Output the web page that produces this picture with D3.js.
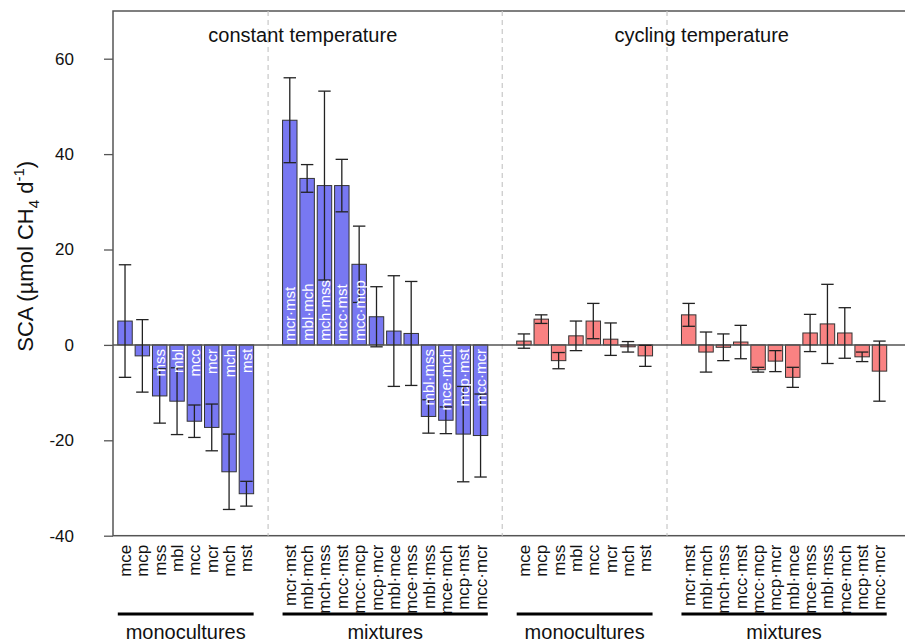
<!DOCTYPE html>
<html>
<head>
<meta charset="utf-8">
<script src="https://cdnjs.cloudflare.com/ajax/libs/d3/7.8.5/d3.min.js"></script>
<style>
  html, body { margin: 0; padding: 0; background: #fff; }
  svg { display: block; font-family: "Liberation Sans", Arial, Helvetica, sans-serif; }
</style>
</head>
<body>
<svg id="chart" width="905" height="644"></svg>
<script>
// Species codes for monocultures and two-species mixtures
const monoConst = ["mce", "mcp", "mss", "mbl", "mcc", "mcr", "mch", "mst"];
const mixConst = ["mcr·mst", "mbl·mch", "mch·mss", "mcc·mst", "mcc·mcp", "mcp·mcr",
                  "mbl·mce", "mce·mss", "mbl·mss", "mce·mch", "mcp·mst", "mcc·mcr"];
const monoCyc = ["mce", "mcp", "mss", "mbl", "mcc", "mcr", "mch", "mst"];
const mixCyc = ["mcr·mst", "mbl·mch", "mch·mss", "mcc·mst", "mcc·mcp", "mcp·mcr",
                "mbl·mce", "mce·mss", "mbl·mss", "mce·mch", "mcp·mst", "mcc·mcr"];

// SCA means and standard errors (µmol CH4 d-1)
const monoConstMean = [5.0, -2.3, -10.7, -11.8, -16.0, -17.3, -26.6, -31.2];
const monoConstSE   = [11.8, 7.6, 5.7, 7.0, 3.4, 4.9, 7.9, 2.6];
const mixConstMean  = [47.1, 34.9, 33.4, 33.4, 16.9, 5.9, 2.9, 2.4, -15.0, -15.8, -18.7, -19.0];
const mixConstSE    = [8.9, 2.9, 19.8, 5.5, 8.0, 6.3, 11.6, 10.9, 3.5, 2.8, 10.0, 8.7];
const monoCycMean   = [0.8, 5.4, -3.3, 1.9, 5.0, 1.2, -0.4, -2.3];
const monoCycSE     = [1.5, 0.9, 1.7, 3.1, 3.7, 3.4, 1.1, 2.2];
const mixCycMean    = [6.3, -1.5, -0.5, 0.6, -5.2, -3.4, -6.8, 2.5, 4.4, 2.5, -2.5, -5.5];
const mixCycSE      = [2.4, 4.2, 2.8, 3.5, 0.5, 2.2, 2.1, 3.9, 8.3, 5.3, 1.0, 6.3];

const yTicks = [-40, -20, 0, 20, 40, 60];
const groupNames = ["monocultures", "mixtures", "monocultures", "mixtures"];
const panelTitles = ["constant temperature", "cycling temperature"];
const labelThreshold = 10; // bars at least this long carry their name inside

const groups = [
  { names: monoConst, mean: monoConstMean, se: monoConstSE, panel: 0 },
  { names: mixConst,  mean: mixConstMean,  se: mixConstSE,  panel: 0 },
  { names: monoCyc,   mean: monoCycMean,   se: monoCycSE,   panel: 1 },
  { names: mixCyc,    mean: mixCycMean,    se: mixCycSE,    panel: 1 }
];

// Bar layout in barplot units: width 1, spacing 0.2, a 2-unit gap between groups
const bars = [];
let c = 0.7;
groups.forEach((g, gi) => {
  g.first = c;
  g.names.forEach((n, i) => {
    bars.push({ name: n, value: g.mean[i], se: g.se[i], group: gi, panel: g.panel, u: c });
    c += 1.2;
  });
  g.last = c - 1.2;
  c += 1.8;
});

const svg = d3.select("#chart");
const colors = ["#7878f2", "#f98282"];

const x = d3.scaleLinear().domain([0, 53.4]).range([114.9, 886.7]);
const y = d3.scaleLinear().domain([-40, 70]).range([535.7, 11]);
const plotLeft = 113, plotRight = 960;

// plot frame
svg.append("rect")
  .attr("x", plotLeft).attr("y", y(70))
  .attr("width", plotRight - plotLeft).attr("height", y(-40) - y(70))
  .attr("fill", "none").attr("stroke", "#555").attr("stroke-width", 1.5);

// dashed separators between groups
for (let gi = 0; gi < groups.length - 1; gi++) {
  const ux = (groups[gi].last + groups[gi + 1].first) / 2;
  svg.append("line")
    .attr("x1", x(ux)).attr("x2", x(ux))
    .attr("y1", y(70)).attr("y2", y(-40))
    .attr("stroke", "#c8c8c8").attr("stroke-width", 1.2)
    .attr("stroke-dasharray", "5,4");
}

// y axis
const yAxis = d3.axisLeft(y).tickValues(yTicks).tickSize(9).tickPadding(30)
  .tickFormat(d => String(d));
const ya = svg.append("g").attr("transform", `translate(${plotLeft},0)`).call(yAxis);
ya.select(".domain").remove();
ya.selectAll(".tick line").attr("stroke", "#555").attr("stroke-width", 1.3);
ya.selectAll(".tick text").attr("font-size", 17).attr("fill", "#111")
  .attr("font-family", "Liberation Sans, Arial, sans-serif");

// y axis title
const yt = svg.append("text")
  .attr("transform", `translate(33,${(y(-40) + y(70)) / 2 - 17}) rotate(-90)`)
  .attr("text-anchor", "middle")
  .attr("font-size", 22).attr("fill", "#111");
yt.append("tspan").text("SCA (µmol CH");
yt.append("tspan").text("4").attr("font-size", 15).attr("dy", 6);
yt.append("tspan").text(" d").attr("dy", -6);
yt.append("tspan").text("-1").attr("font-size", 15).attr("dy", -9);
yt.append("tspan").text(")").attr("dy", 9);

const bw = x(1) - x(0);

// bars
svg.append("g").selectAll("rect").data(bars).join("rect")
  .attr("x", d => x(d.u - 0.5))
  .attr("width", bw)
  .attr("y", d => y(Math.max(0, d.value)))
  .attr("height", d => Math.abs(y(d.value) - y(0)))
  .attr("fill", d => colors[d.panel])
  .attr("stroke", "#333").attr("stroke-width", 1);

// zero line
svg.append("line")
  .attr("x1", plotLeft).attr("x2", plotRight)
  .attr("y1", y(0)).attr("y2", y(0))
  .attr("stroke", "#555").attr("stroke-width", 1.5);

// error bars (mean ± SE)
const eb = svg.append("g").attr("stroke", "#222").attr("stroke-width", 1.3);
const capHalf = bw * 0.43;
bars.forEach(d => {
  const cx = x(d.u);
  eb.append("line").attr("x1", cx).attr("x2", cx)
    .attr("y1", y(d.value - d.se)).attr("y2", y(d.value + d.se));
  [d.value - d.se, d.value + d.se].forEach(v => {
    eb.append("line").attr("x1", cx - capHalf).attr("x2", cx + capHalf)
      .attr("y1", y(v)).attr("y2", y(v));
  });
});

// names inside the longer bars
svg.append("g").selectAll("text")
  .data(bars.filter(d => Math.abs(d.value) >= labelThreshold)).join("text")
  .attr("transform", d => `translate(${x(d.u) + 5.5},${y(0) + (d.value > 0 ? -4 : 4)}) rotate(-90)`)
  .attr("text-anchor", d => d.value > 0 ? "start" : "end")
  .attr("font-size", 15).attr("fill", "#fff")
  .text(d => d.name);

// category labels below the frame
svg.append("g").selectAll("text").data(bars).join("text")
  .attr("transform", d => `translate(${x(d.u) + 6},${y(-40) + 9}) rotate(-90)`)
  .attr("text-anchor", "end")
  .attr("font-size", 17).attr("fill", "#111")
  .text(d => d.name);

// group brackets and names
groups.forEach((g, gi) => {
  svg.append("line")
    .attr("x1", x(g.first - 0.5)).attr("x2", x(g.last + 0.5))
    .attr("y1", 614).attr("y2", 614)
    .attr("stroke", "#000").attr("stroke-width", 3);
  svg.append("text")
    .attr("x", x((g.first + g.last) / 2)).attr("y", 639)
    .attr("text-anchor", "middle").attr("font-size", 20).attr("fill", "#111")
    .text(groupNames[gi]);
});

// panel titles
[0, 1].forEach(p => {
  const a = groups[p * 2], b = groups[p * 2 + 1];
  svg.append("text")
    .attr("x", x((a.first - 0.5 + b.last + 0.5) / 2)).attr("y", 42)
    .attr("text-anchor", "middle").attr("font-size", 20).attr("fill", "#111")
    .text(panelTitles[p]);
});
</script>
</body>
</html>
